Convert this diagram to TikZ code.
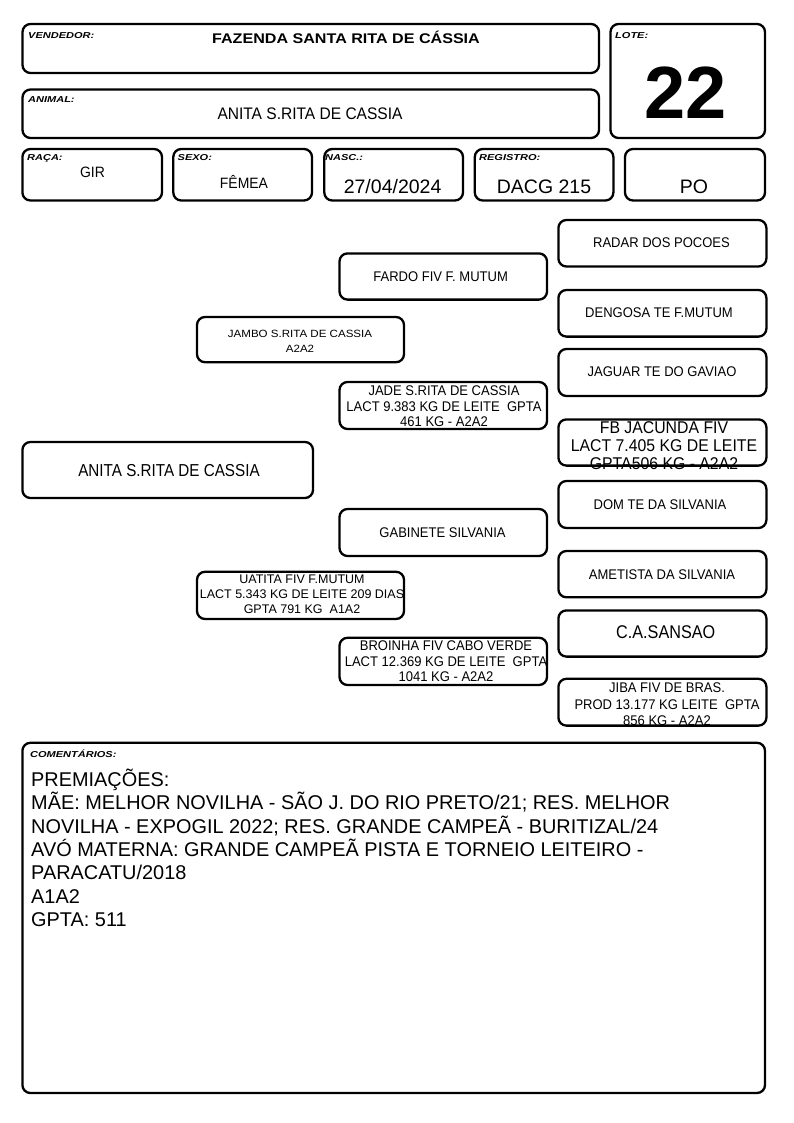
\documentclass[tikz,border=0pt]{standalone}
\usepackage{fontspec}
\setmainfont{Liberation Sans}
\newfontfamily\fsA[FakeStretch=0.88]{Liberation Sans}
\newfontfamily\fsB[FakeStretch=0.93]{Liberation Sans}
\newfontfamily\fsC[FakeStretch=1.10]{Liberation Sans}
\newfontfamily\fsD[FakeStretch=1.15]{Liberation Sans}
\newfontfamily\fsE[FakeStretch=1.28]{Liberation Sans}
\begin{document}
\begin{tikzpicture}[x=1pt,y=-1pt,
  box/.style={draw=black, line width=2.3pt, rounded corners=8pt, inner sep=0pt, outer sep=0pt},
  lbl/.style={inner sep=0pt, anchor=base west, font=\fontsize{8.6pt}{10pt}\fsE\bfseries\itshape},
  nm/.style={inner sep=0pt, anchor=base, font=\fontsize{14pt}{15.6pt}\fsB},
  ml/.style={inner sep=0pt, anchor=center, align=center},
  val/.style={inner sep=0pt, anchor=base}]
\useasboundingbox[fill=white] (0,0) rectangle (794,1123);

% ---------- header boxes ----------
\node[box, minimum width=576.5pt, minimum height=49pt]   (vend) at (310.75,48.5) {};
\node[box, minimum width=576.5pt, minimum height=48.5pt] (anim) at (310.75,113.75) {};
\node[box, minimum width=154.5pt, minimum height=114pt]  (lote) at (687.75,81) {};
\node[box, minimum width=139.6pt, minimum height=51.5pt] (raca) at (92.2,174.75) {};
\node[box, minimum width=138.7pt, minimum height=51.5pt] (sexo) at (242.65,174.75) {};
\node[box, minimum width=138.7pt, minimum height=51.5pt] (nasc) at (393.65,174.75) {};
\node[box, minimum width=138.6pt, minimum height=51.5pt] (regi) at (544.1,174.75) {};
\node[box, minimum width=140pt,   minimum height=51.5pt] (pobx) at (695,174.75) {};

% ---------- pedigree boxes ----------
\node[box, minimum width=208pt,   minimum height=46.5pt] (radar) at (662.4,243.25) {};
\node[box, minimum width=207.5pt, minimum height=46.2pt] (fardo) at (443.25,276.5) {};
\node[box, minimum width=208pt,   minimum height=46.6pt] (deng)  at (662.4,313.3) {};
\node[box, minimum width=207pt,   minimum height=45.2pt] (jambo) at (300.5,339.6) {};
\node[box, minimum width=208pt,   minimum height=47pt]   (jagu)  at (662.4,372.5) {};
\node[box, minimum width=207.5pt, minimum height=47pt]   (jade)  at (443.25,405.5) {};
\node[box, minimum width=208pt,   minimum height=46.2pt] (fbja)  at (662.4,442.5) {};
\node[box, minimum width=290.6pt, minimum height=56pt]   (anita) at (167.7,470) {};
\node[box, minimum width=208pt,   minimum height=47pt]   (dom)   at (662.4,504.5) {};
\node[box, minimum width=207.5pt, minimum height=47pt]   (gabi)  at (443.25,532.5) {};
\node[box, minimum width=208pt,   minimum height=46.3pt] (amet)  at (662.4,574.15) {};
\node[box, minimum width=207pt,   minimum height=47.2pt] (uati)  at (300.5,595.4) {};
\node[box, minimum width=208pt,   minimum height=46.2pt] (sans)  at (662.4,633.5) {};
\node[box, minimum width=207.5pt, minimum height=47.2pt] (broi)  at (443.25,661.4) {};
\node[box, minimum width=208pt,   minimum height=46.8pt] (jiba)  at (662.4,702.2) {};

% ---------- comments box ----------
\node[box, minimum width=742.6pt, minimum height=350.2pt] (coment) at (393.7,917.9) {};

% ---------- header texts ----------
\node[lbl] (lvend) at (28,39) {VENDEDOR:};
\node[val, font=\fontsize{14pt}{16pt}\fsD\bfseries] (tvend) at (346,43.3) {FAZENDA SANTA RITA DE CÁSSIA};
\node[lbl] (lanim) at (28,102.3) {ANIMAL:};
\node[val, font=\fontsize{16.7pt}{18pt}\fsB] (tanim) at (310,119.3) {ANITA S.RITA DE CASSIA};
\node[lbl] (llote) at (615,39) {LOTE:};
\node[val, font=\fontsize{74pt}{80pt}\selectfont\bfseries] (tlote) at (686,118.3) {22};

\node[lbl] (lraca) at (27,161) {RAÇA:};
\node[lbl] (lsexo) at (177.5,161) {SEXO:};
\node[lbl] (lnasc) at (325,161) {NASC.:};
\node[lbl] (lregi) at (479,161) {REGISTRO:};

\node[val, font=\fontsize{15pt}{17pt}\fsB] (traca) at (92.5,177.7) {GIR};
\node[val, font=\fontsize{15pt}{17pt}\fsB] (tsexo) at (244,189) {FÊMEA};
\node[val, font=\fontsize{19.5pt}{22pt}\selectfont] (tnasc) at (392.6,193.3) {27/04/2024};
\node[val, font=\fontsize{19.5pt}{22pt}\selectfont] (tregi) at (544,193.3) {DACG 215};
\node[val, font=\fontsize{19.5pt}{22pt}\selectfont] (tpo)   at (694,193.3) {PO};

% ---------- pedigree texts ----------
\node[nm] (tradar) at (661.5,247.7) {RADAR DOS POCOES};
\node[nm] (tfardo) at (440.6,281.3) {FARDO FIV F. MUTUM};
\node[nm] (tdeng)  at (659,317.7) {DENGOSA TE F.MUTUM};
\node[ml, font=\fontsize{10.5pt}{15pt}\fsC] (tjambo) at (300,341.8) {JAMBO S.RITA DE CASSIA\\A2A2};
\node[nm] (tjagu)  at (662,376.7) {JAGUAR TE DO GAVIAO};
\node[ml, font=\fontsize{14pt}{15.6pt}\fsB] (tjade) at (444,406.2) {JADE S.RITA DE CASSIA\\LACT 9.383 KG DE LEITE\ \ GPTA\\461 KG - A2A2};
\node[ml, font=\fontsize{17pt}{17.8pt}\fsB] (tfbja) at (664,445.6) {FB JACUNDA FIV\\LACT 7.405 KG DE LEITE\\GPTA506 KG - A2A2};
\node[val, font=\fontsize{17.3pt}{19pt}\fsA] (tanita) at (169,476.7) {ANITA S.RITA DE CASSIA};
\node[nm] (tdom)   at (660,509.5) {DOM TE DA SILVANIA};
\node[nm] (tgabi)  at (442.5,537.5) {GABINETE SILVANIA};
\node[nm] (tamet)  at (662,579) {AMETISTA DA SILVANIA};
\node[ml, font=\fontsize{12.5pt}{15pt}\selectfont] (tuati) at (302,594.7) {UATITA FIV F.MUTUM\\LACT 5.343 KG DE LEITE 209 DIAS\\GPTA 791 KG\ \ A1A2};
\node[val, font=\fontsize{18.4pt}{20pt}\fsA] (tsans) at (665.7,638.3) {C.A.SANSAO};
\node[ml, font=\fontsize{14pt}{15.8pt}\fsB] (tbroi) at (446,661.2) {BROINHA FIV CABO VERDE\\LACT 12.369 KG DE LEITE\ \ GPTA\\1041 KG - A2A2};
\node[ml, font=\fontsize{14pt}{16.7pt}\fsB] (tjiba) at (667,704.4) {JIBA FIV DE BRAS.\\PROD 13.177 KG LEITE\ \ GPTA\\856 KG - A2A2};

% ---------- comments ----------
\node[lbl] (lcoment) at (30,757) {COMENTÁRIOS:};
\node[inner sep=0pt, anchor=north west, align=left, font=\fontsize{19.9pt}{23.4pt}\selectfont] (tcoment) at (31,765)
{\rule{0pt}{21pt}PREMIAÇÕES:\\
MÃE: MELHOR NOVILHA - SÃO J. DO RIO PRETO/21; RES. MELHOR\\
NOVILHA - EXPOGIL 2022; RES. GRANDE CAMPEÃ - BURITIZAL/24\\
AVÓ MATERNA: GRANDE CAMPEÃ PISTA E TORNEIO LEITEIRO -\\
PARACATU/2018\\
A1A2\\
GPTA: 511};
\end{tikzpicture}
\end{document}
